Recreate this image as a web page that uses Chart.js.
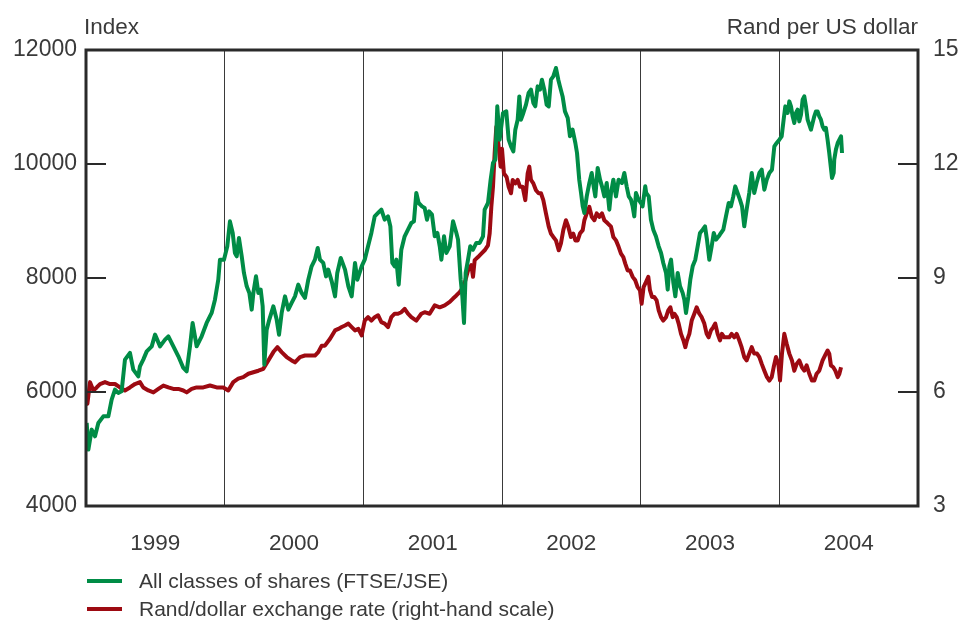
<!DOCTYPE html>
<html>
<head>
<meta charset="utf-8">
<script src="https://cdn.jsdelivr.net/npm/chart.js@4.4.1/dist/chart.umd.min.js"></script>
<style>
  html, body { margin: 0; padding: 0; background: #fff; }
</style>
</head>
<body>
<canvas id="myChart" width="964" height="621"></canvas>
<script>
// =========================
//  data
// =========================

// share index (FTSE/JSE all classes), left scale
var shareDates = [
    1999.005,1999.017,1999.041,1999.065,1999.089,1999.125,1999.161,1999.185,1999.209,1999.233,1999.257,1999.281,1999.317,1999.341,1999.377,1999.389,1999.413,1999.438,1999.474,1999.498,1999.534,1999.570,1999.594,1999.630,1999.666,1999.702,1999.726,1999.750,1999.769,1999.798,1999.834,1999.870,1999.906,1999.930,1999.954,1999.966,1999.995,
    2000.019,2000.038,2000.058,2000.074,2000.087,2000.103,2000.123,2000.139,2000.159,2000.178,2000.195,2000.207,2000.226,2000.243,2000.260,2000.274,2000.286,2000.303,2000.322,2000.351,2000.375,2000.392,2000.411,2000.435,2000.459,2000.483,2000.507,2000.531,2000.555,2000.579,2000.603,2000.627,2000.651,2000.671,2000.687,2000.711,2000.731,2000.747,2000.772,2000.796,2000.812,2000.837,2000.868,2000.892,2000.916,2000.940,2000.957,2000.988,
    2001.010,2001.034,2001.058,2001.082,2001.106,2001.130,2001.154,2001.178,2001.195,2001.209,2001.226,2001.238,2001.255,2001.274,2001.298,2001.322,2001.346,2001.365,2001.382,2001.399,2001.423,2001.442,2001.459,2001.474,2001.495,2001.515,2001.534,2001.551,2001.563,2001.582,2001.599,2001.623,2001.647,2001.671,2001.683,2001.702,2001.714,2001.726,2001.738,2001.755,2001.771,2001.791,2001.815,2001.839,2001.863,2001.875,2001.899,2001.918,2001.935,2001.952,2001.966,2001.983,
    2002.007,2002.031,2002.048,2002.065,2002.082,2002.096,2002.113,2002.125,2002.137,2002.154,2002.173,2002.192,2002.209,2002.226,2002.240,2002.257,2002.274,2002.288,2002.305,2002.322,2002.337,2002.353,2002.370,2002.389,2002.406,2002.418,2002.437,2002.454,2002.474,2002.490,2002.509,2002.529,2002.541,2002.557,2002.570,2002.582,2002.594,2002.611,2002.630,2002.647,2002.661,2002.673,2002.690,2002.707,2002.721,2002.738,2002.755,2002.774,2002.786,2002.803,2002.822,2002.841,2002.865,2002.882,2002.899,2002.914,2002.930,2002.942,2002.954,2002.966,2002.985,
    2003.002,2003.014,2003.033,2003.040,2003.058,2003.074,2003.091,2003.110,2003.130,2003.147,2003.163,2003.183,2003.195,2003.207,2003.219,2003.236,2003.250,2003.267,2003.284,2003.303,2003.315,2003.327,2003.344,2003.358,2003.375,2003.394,2003.411,2003.428,2003.447,2003.464,2003.478,2003.495,2003.512,2003.527,2003.543,2003.563,2003.579,2003.596,2003.615,2003.635,2003.651,2003.668,2003.682,2003.699,2003.716,2003.731,2003.747,2003.764,2003.783,2003.801,2003.819,2003.836,2003.856,2003.873,2003.892,2003.909,2003.928,2003.947,2003.964,2003.981,
    2004.000,2004.017,2004.031,2004.043,2004.060,2004.072,2004.084,2004.096,2004.108,2004.120,2004.132,2004.144,2004.156,2004.168,2004.180,2004.192,2004.204,2004.216,2004.228,2004.240,2004.252,2004.264,2004.276,2004.288,2004.300,2004.312,2004.324,2004.336,2004.348,2004.360,2004.368,2004.380,2004.392,2004.396,2004.408,2004.421,2004.433,2004.445,2004.452
];
var shareIndex = [
    5457,4990,5340,5223,5457,5573,5573,5866,6042,5984,6012,6568,6685,6393,6275,6450,6568,6713,6801,7006,6801,6919,6977,6801,6626,6422,6363,6801,7211,6801,6977,7211,7387,7620,7971,8322,8322,
    8556,8994,8790,8439,8380,8702,8380,8089,7854,7738,7445,7738,8029,7738,7796,7503,6480,7094,7270,7503,7270,7006,7387,7678,7445,7562,7678,7883,7738,7650,7971,8205,8322,8527,8322,8264,8029,8146,7942,7678,8089,8352,8146,7854,7678,8264,7971,8205,
    8322,8556,8790,9081,9141,9199,9023,9081,8906,8264,8205,8322,7883,8497,8731,8848,8965,8994,9492,9316,9257,9229,9023,9169,9111,8731,8790,8556,8322,8731,8439,8556,8994,8790,8673,7971,7678,7211,8089,8322,8556,8497,8615,8615,8731,9199,9316,9725,10018,10076,11011,10427,
    10895,10923,10427,10309,10221,10602,10777,11186,10777,10895,11041,11246,11304,11070,11011,11362,11304,11479,11304,11041,11011,11479,11537,11684,11479,11362,11186,10923,10807,10485,10602,10369,10193,9725,9492,9257,9141,9432,9667,9843,9608,9432,9930,9725,9608,9432,9667,9199,9492,9725,9432,9725,9667,9843,9608,9432,9374,9257,9081,9492,9374,
    9316,9257,9608,9492,9432,9023,8848,8731,8556,8439,8264,8089,7796,8205,8322,7913,7678,8089,7854,7738,7620,7387,7678,7971,8205,8322,8556,8790,8848,8906,8673,8322,8556,8790,8673,8731,8790,8848,9081,9316,9257,9432,9608,9492,9374,9257,8906,9199,9492,9843,9492,9667,9843,9901,9550,9725,9843,9901,10309,10369,
    10427,10485,10777,11011,10895,11099,11011,10836,10720,10895,10953,10748,10865,11128,11186,11011,10777,10690,10602,10720,10836,10923,10923,10836,10777,10660,10602,10632,10427,10193,10018,9755,9843,10076,10252,10369,10427,10485,10193
];

// rand per US dollar, right scale
var randDates = [
    1999.000,1999.010,1999.029,1999.053,1999.077,1999.101,1999.137,1999.173,1999.209,1999.245,1999.281,1999.317,1999.353,1999.389,1999.413,1999.450,1999.486,1999.522,1999.558,1999.594,1999.630,1999.666,1999.702,1999.726,1999.762,1999.798,1999.846,1999.894,1999.942,1999.990,
    2000.026,2000.062,2000.098,2000.134,2000.171,2000.207,2000.243,2000.279,2000.315,2000.351,2000.380,2000.411,2000.447,2000.483,2000.507,2000.543,2000.579,2000.615,2000.651,2000.675,2000.700,2000.723,2000.760,2000.796,2000.820,2000.844,2000.868,2000.892,2000.916,2000.940,2000.964,2000.988,
    2001.010,2001.034,2001.058,2001.082,2001.106,2001.130,2001.154,2001.178,2001.202,2001.226,2001.250,2001.274,2001.298,2001.322,2001.346,2001.382,2001.418,2001.442,2001.478,2001.515,2001.551,2001.587,2001.623,2001.647,2001.671,2001.695,2001.719,2001.736,2001.755,2001.779,2001.791,2001.803,2001.827,2001.851,2001.875,2001.899,2001.911,2001.923,2001.935,2001.947,2001.959,2001.971,2001.990,
    2002.000,2002.014,2002.033,2002.048,2002.065,2002.077,2002.096,2002.113,2002.130,2002.149,2002.168,2002.185,2002.197,2002.209,2002.226,2002.245,2002.264,2002.281,2002.298,2002.317,2002.337,2002.353,2002.370,2002.389,2002.409,2002.425,2002.442,2002.461,2002.478,2002.497,2002.514,2002.529,2002.546,2002.562,2002.582,2002.594,2002.611,2002.630,2002.647,2002.666,2002.683,2002.702,2002.721,2002.738,2002.762,2002.786,2002.803,2002.822,2002.841,2002.858,2002.875,2002.889,2002.906,2002.923,2002.942,2002.961,2002.978,2002.995,
    2003.007,2003.021,2003.033,2003.055,2003.067,2003.082,2003.098,2003.115,2003.130,2003.147,2003.163,2003.183,2003.199,2003.214,2003.231,2003.243,2003.260,2003.274,2003.291,2003.308,2003.322,2003.334,2003.351,2003.368,2003.387,2003.404,2003.423,2003.440,2003.459,2003.476,2003.490,2003.507,2003.524,2003.538,2003.555,2003.572,2003.586,2003.603,2003.620,2003.639,2003.656,2003.675,2003.692,2003.711,2003.728,2003.747,2003.764,2003.783,2003.801,2003.819,2003.839,2003.856,2003.873,2003.892,2003.911,2003.928,2003.945,2003.959,2003.976,2003.993,
    2004.005,2004.019,2004.036,2004.053,2004.072,2004.091,2004.108,2004.125,2004.144,2004.163,2004.180,2004.197,2004.216,2004.235,2004.252,2004.269,2004.288,2004.312,2004.336,2004.348,2004.360,2004.372,2004.389,2004.404,2004.421,2004.433,2004.445
];
var randRate = [
    5.82,5.69,6.26,6.04,6.12,6.21,6.26,6.21,6.21,6.12,6.04,6.12,6.21,6.26,6.12,6.04,5.99,6.08,6.17,6.12,6.08,6.08,6.04,5.99,6.08,6.12,6.12,6.17,6.12,6.12,
    6.04,6.26,6.35,6.39,6.48,6.52,6.56,6.61,6.83,7.05,7.18,7.05,6.92,6.83,6.78,6.92,6.96,6.96,6.96,7.05,7.22,7.22,7.40,7.62,7.66,7.71,7.75,7.80,7.71,7.62,7.66,7.49,
    7.88,7.97,7.88,7.97,8.02,7.84,7.80,7.71,7.97,8.06,8.06,8.10,8.19,8.06,7.97,7.88,8.06,8.10,8.06,8.28,8.23,8.28,8.37,8.46,8.54,8.63,8.76,8.94,9.20,9.34,9.03,9.47,9.55,9.64,9.73,9.86,10.17,10.87,11.40,12.28,12.98,12.63,11.93,
    12.40,11.75,11.66,11.40,11.23,11.58,11.49,11.58,11.40,11.40,11.05,11.75,11.93,11.58,11.49,11.31,11.23,11.23,11.05,10.70,10.35,10.17,10.08,9.99,9.73,9.91,10.26,10.52,10.35,10.08,10.17,9.99,9.99,10.17,10.26,10.52,10.70,10.87,10.61,10.52,10.70,10.61,10.70,10.52,10.44,10.35,10.08,9.99,9.82,9.64,9.55,9.38,9.20,9.20,9.03,8.94,8.76,8.68,
    8.32,8.76,8.85,9.03,8.68,8.50,8.50,8.41,8.15,7.97,7.88,7.97,8.15,8.23,7.97,8.06,7.97,7.80,7.53,7.36,7.18,7.36,7.53,7.88,8.06,8.23,8.06,7.97,7.80,7.53,7.44,7.62,7.71,7.80,7.53,7.36,7.53,7.44,7.44,7.44,7.53,7.44,7.53,7.36,7.18,6.92,6.83,7.01,7.18,7.01,7.01,6.92,6.74,6.56,6.39,6.30,6.39,6.65,6.92,6.74,
    6.30,7.01,7.53,7.27,7.01,6.83,6.56,6.74,6.83,6.65,6.56,6.70,6.48,6.30,6.30,6.48,6.56,6.83,7.01,7.09,7.01,6.70,6.65,6.56,6.39,6.48,6.65
];

// axis ticks
var indexTicks = [4000, 12000, 2000];   // min, max, step
var randTicks = [3, 15, 3];
var yearSpan = [1999, 2005];

var seriesLabels = ["All classes of shares (FTSE/JSE)", "Rand/dollar exchange rate (right-hand scale)"];
var seriesColors = ["#008c46", "#9d0a12"];

// =======================
//  chart
// =======================

var FONT = '"Liberation Sans", Arial, sans-serif';
var TEXT = '#3a3a3a';

function toPoints(xs, ys) {
    return xs.map(function (x, i) { return { x: x, y: ys[i] }; });
}

// frame, inward ticks, axis titles and legend
const framePlugin = {
    id: 'framePlugin',
    afterDatasetsDraw(chart) {
        const ctx = chart.ctx;
        const a = chart.chartArea;
        const yL = chart.scales.y;
        const yR = chart.scales.y1;
        ctx.save();
        ctx.strokeStyle = '#2a2a2a';
        ctx.lineWidth = 2;
        yL.ticks.forEach((t) => {
            if (t.value > yL.min && t.value < yL.max) {
                const p = Math.round(yL.getPixelForValue(t.value));
                ctx.beginPath(); ctx.moveTo(a.left, p); ctx.lineTo(a.left + 20, p); ctx.stroke();
            }
        });
        yR.ticks.forEach((t) => {
            if (t.value > yR.min && t.value < yR.max) {
                const p = Math.round(yR.getPixelForValue(t.value));
                ctx.beginPath(); ctx.moveTo(a.right - 20, p); ctx.lineTo(a.right, p); ctx.stroke();
            }
        });
        ctx.lineWidth = 3;
        ctx.strokeRect(a.left, a.top, a.right - a.left, a.bottom - a.top);
        ctx.restore();
    },
    afterDraw(chart) {
        const ctx = chart.ctx;
        const a = chart.chartArea;
        ctx.save();
        ctx.fillStyle = TEXT;
        ctx.textBaseline = 'middle';
        ctx.font = '22.5px ' + FONT;
        ctx.textAlign = 'left';
        ctx.fillText('Index', a.left - 2, 28);
        ctx.textAlign = 'right';
        ctx.fillText('Rand per US dollar', a.right, 28);

        // legend rows
        ctx.textAlign = 'left';
        ctx.font = '21px ' + FONT;
        chart.data.datasets.forEach((ds, i) => {
            const y = 581 + i * 28;
            ctx.strokeStyle = ds.borderColor;
            ctx.lineWidth = 4;
            ctx.beginPath(); ctx.moveTo(87, y); ctx.lineTo(122, y); ctx.stroke();
            ctx.fillStyle = TEXT;
            ctx.fillText(ds.label, 139, y + 1);
        });
        ctx.restore();
    }
};

const ctx = document.getElementById('myChart');

const myChart = new Chart(ctx, {
    type: 'line',
    data: {
        datasets: [
            {
                label: seriesLabels[0],
                data: toPoints(shareDates, shareIndex),
                yAxisID: 'y',
                borderColor: seriesColors[0],
                borderWidth: 4,
                pointRadius: 0,
                tension: 0,
                borderJoinStyle: 'round'
            },
            {
                label: seriesLabels[1],
                data: toPoints(randDates, randRate),
                yAxisID: 'y1',
                borderColor: seriesColors[1],
                borderWidth: 4,
                pointRadius: 0,
                tension: 0,
                borderJoinStyle: 'round'
            }
        ]
    },
    options: {
        responsive: false,
        animation: false,
        devicePixelRatio: 1,
        layout: { padding: { top: 50, left: 0, right: 0, bottom: 0 } },
        plugins: {
            legend: { display: false },
            tooltip: { enabled: false }
        },
        scales: {
            x: {
                type: 'linear',
                min: yearSpan[0],
                max: yearSpan[1],
                afterFit: (scale) => { scale.height = 115; },
                border: { display: false },
                grid: {
                    drawTicks: false,
                    lineWidth: 1,
                    color: (c) => (c.tick && Number.isInteger(c.tick.value) ? '#3a3a3a' : 'rgba(0,0,0,0)')
                },
                ticks: {
                    stepSize: 0.5,
                    autoSkip: false,
                    maxRotation: 0,
                    maxTicksLimit: 20,
                    padding: 24,
                    color: TEXT,
                    font: { family: FONT, size: 22.5 },
                    callback: (v) => (Math.abs((v % 1) - 0.5) < 1e-6 ? String(Math.floor(v)) : '')
                }
            },
            y: {
                position: 'left',
                min: indexTicks[0],
                max: indexTicks[1],
                afterFit: (scale) => { scale.width = 86; },
                border: { display: false },
                grid: { display: false, drawTicks: false },
                ticks: {
                    stepSize: indexTicks[2],
                    padding: 9,
                    color: TEXT,
                    font: { family: FONT, size: 23 },
                    callback: (v) => String(v)
                }
            },
            y1: {
                position: 'right',
                min: randTicks[0],
                max: randTicks[1],
                afterFit: (scale) => { scale.width = 46; },
                border: { display: false },
                grid: { display: false, drawTicks: false },
                ticks: {
                    stepSize: randTicks[2],
                    padding: 15,
                    color: TEXT,
                    font: { family: FONT, size: 23 },
                    callback: (v) => String(v)
                }
            }
        }
    },
    plugins: [framePlugin]
});
</script>
</body>
</html>
